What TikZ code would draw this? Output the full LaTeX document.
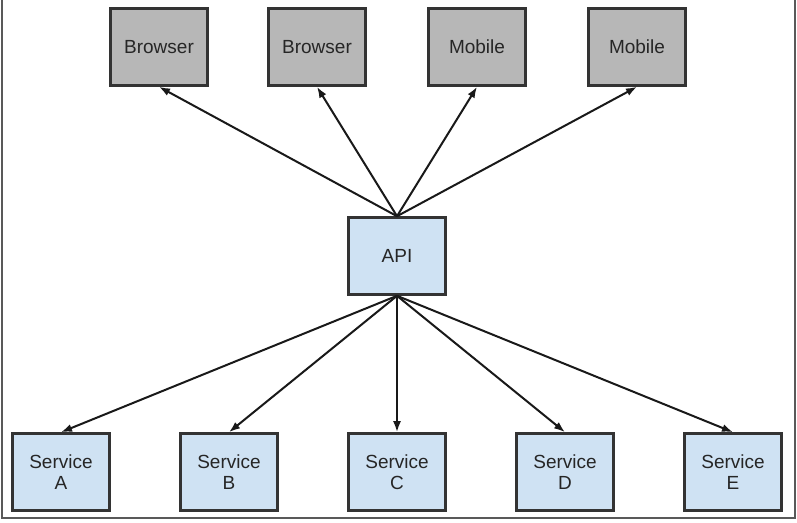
\documentclass[tikz,border=0pt]{standalone}
\usepackage{fontspec}
\setmainfont{Liberation Sans}
\usetikzlibrary{arrows.meta}
\definecolor{servicefill}{RGB}{207,226,243}
\definecolor{clientfill}{RGB}{183,183,183}
\tikzset{
    client/.style={draw=black!80, line width=2.6pt, fill=clientfill, minimum width=97pt, minimum height=77pt, font=\fontsize{19}{21}\selectfont, text=black!85},
    service/.style={client, fill=servicefill, align=center},
    link/.style={-{Latex[length=11pt, width=8pt]}, line width=2pt, black!90},
}
\begin{document}
\begin{tikzpicture}[x=1pt, y=-1pt]
        \useasboundingbox (0, 0) rectangle (797, 522);
        \draw[black!65, line width=1.5pt] (2, -2) -- (2, 518) -- (795, 518) -- (795, -2);

        \node[client] (browsera) at (159, 47) {Browser};
        \node[client] (browserb) at (317, 47) {Browser};
        \node[client] (mobilea) at (477, 47) {Mobile};
        \node[client] (mobileb) at (637, 47) {Mobile};

        \node[service] (api) at (397, 256) {API};

        \node[service] (sa) at (61, 472) {Service\\A};
        \node[service] (sb) at (229, 472) {Service\\B};
        \node[service] (sc) at (397, 472) {Service\\C};
        \node[service] (sd) at (565, 472) {Service\\D};
        \node[service] (se) at (733, 472) {Service\\E};

        \foreach \n in {browsera, browserb, mobilea, mobileb}
            \draw[link] (api.north) -- (\n.south);
        \foreach \n in {sa, sb, sc, sd, se}
            \draw[link] (api.south) -- (\n.north);
    \end{tikzpicture}
\end{document}
